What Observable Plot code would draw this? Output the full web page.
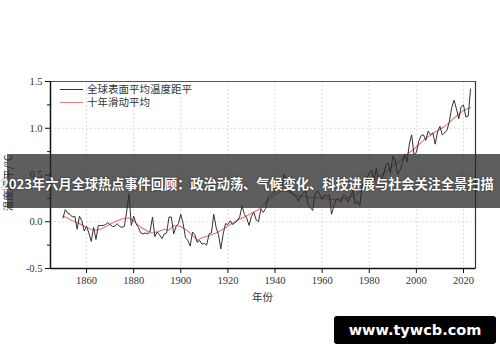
<!DOCTYPE html>
<html>
<head>
<meta charset="utf-8">
<script src="https://cdn.jsdelivr.net/npm/d3@7"></script>
<script src="https://cdn.jsdelivr.net/npm/@observablehq/plot@0.6"></script>
<style>
  html, body { margin: 0; padding: 0; background: #fff; }
  #wrap { position: relative; width: 500px; height: 362px; overflow: hidden; background: #fff; }
  #wrap svg { position: absolute; left: 0; top: 0; }
  .ov { position: absolute; white-space: nowrap; }
</style>
</head>
<body>
<div id="wrap"></div>
<script>
// ---- data ----
const startYear = 1850;
const anomaly = [
  0.04, 0.13, 0.09, 0.08, 0.05, 0.06, -0.08, 0.06, 0.01, -0.10,
  -0.05, -0.12, -0.21, -0.06, -0.19, -0.04, -0.04, -0.04, -0.03, -0.01,
  -0.03, -0.05, -0.05, -0.02, -0.05, -0.06, -0.05, 0.10, 0.30, -0.04,
  0.06, -0.02, -0.06, -0.12, -0.13, -0.12, -0.13, -0.10, 0.05, -0.16,
  -0.11, -0.14, -0.18, -0.13, -0.12, 0.05, 0.05, -0.13, -0.05, -0.02,
  0.08, -0.02, -0.17, -0.20, -0.26, -0.11, -0.14, -0.22, -0.20, -0.24,
  -0.23, -0.25, -0.13, -0.12, 0.08, -0.06, -0.14, -0.29, -0.13, -0.02,
  -0.03, 0.01, -0.03, -0.01, 0.01, 0.05, 0.17, 0.08, 0.04, -0.04,
  0.06, 0.10, 0.02, 0.00, 0.14, 0.10, 0.14, 0.26, 0.28, 0.30,
  0.33, 0.40, 0.35, 0.36, 0.51, 0.40, 0.36, 0.30, 0.28, 0.27,
  0.22, 0.28, 0.30, 0.34, 0.19, 0.15, 0.12, 0.30, 0.33, 0.29,
  0.24, 0.29, 0.27, 0.29, 0.08, 0.17, 0.24, 0.23, 0.21, 0.29,
  0.27, 0.21, 0.27, 0.33, 0.19, 0.22, 0.17, 0.40, 0.34, 0.47,
  0.52, 0.55, 0.44, 0.57, 0.43, 0.45, 0.50, 0.60, 0.63, 0.52,
  0.70, 0.66, 0.51, 0.55, 0.62, 0.72, 0.64, 0.83, 0.93, 0.72,
  0.74, 0.86, 0.92, 0.93, 0.87, 0.97, 0.93, 0.95, 0.83, 0.96,
  1.02, 0.93, 0.95, 0.98, 1.07, 1.22, 1.30, 1.21, 1.10, 1.23,
  1.25, 1.12, 1.13, 1.42
];
const years = anomaly.map((_, i) => startYear + i);

const maYears = [
  1850, 1852, 1854, 1857, 1860, 1862, 1864, 1866, 1869, 1872,
  1875, 1878, 1880, 1883, 1886, 1888, 1891, 1893, 1895, 1897,
  1900, 1903, 1906, 1907, 1909, 1912, 1915, 1918, 1921, 1924,
  1927, 1930, 1933, 1935, 1937, 1940, 1943, 1945, 1948, 1950,
  1955, 1960, 1965, 1970, 1975, 1978, 1980, 1983, 1985, 1988,
  1990, 1993, 1996, 2000, 2003, 2005, 2008, 2010, 2012, 2014,
  2016, 2018, 2020, 2021, 2023
];
const maValues = [
  0.06, 0.04, 0.01, -0.02, -0.06, -0.08, -0.09, -0.08, -0.04, 0.00,
  0.03, 0.04, 0.01, -0.06, -0.10, -0.12, -0.10, -0.08, -0.09, -0.04,
  -0.05, -0.10, -0.17, -0.20, -0.17, -0.15, -0.12, -0.08, -0.03, 0.02,
  0.05, 0.09, 0.13, 0.18, 0.23, 0.29, 0.33, 0.33, 0.30, 0.28,
  0.26, 0.25, 0.24, 0.25, 0.30, 0.36, 0.40, 0.46, 0.50, 0.56,
  0.60, 0.65, 0.72, 0.80, 0.87, 0.91, 0.96, 0.99, 1.02, 1.06,
  1.11, 1.15, 1.19, 1.20, 1.22
];

const xTicks = [1860, 1880, 1900, 1920, 1940, 1960, 1980, 2000, 2020];
const yTicks = [-0.5, 0.0, 0.5, 1.0, 1.5];
const yMinorTicks = [-0.25, 0.25, 0.75, 1.25];
const xDomain = [1844.7, 2025.1];
const yDomain = [-0.5, 1.5];

const titleText = "2023年六月全球热点事件回顾：政治动荡、气候变化、科技进展与社会关注全景扫描";
const seriesNames = ["全球表面平均温度距平", "十年滑动平均"];
const seriesColors = ["#333333", "#ee7b7b"];
const xLabel = "年份";
const yLabel = "温度距平/°C";
const watermark = "www.tywcb.com";

// ---- chart ----
const chart = Plot.plot({
  width: 500,
  height: 362,
  marginLeft: 50,
  marginRight: 25,
  marginTop: 81,
  marginBottom: 94,
  style: { fontFamily: "'Liberation Serif', 'Noto Sans CJK SC', serif", fontSize: "10.5px", color: "#333", background: "transparent" },
  x: { domain: xDomain },
  y: { domain: yDomain },
  marks: [
    Plot.gridX(xTicks, { stroke: "#cfcfcf", strokeOpacity: 1, strokeWidth: 0.7, strokeDasharray: "2,2" }),
    Plot.gridY(yTicks, { stroke: "#cfcfcf", strokeOpacity: 1, strokeWidth: 0.7, strokeDasharray: "2,2" }),
    Plot.line(maYears, { x: maYears, y: maValues, stroke: seriesColors[1], strokeWidth: 1.2 }),
    Plot.line(years, { x: years, y: anomaly, stroke: seriesColors[0], strokeWidth: 1 }),
    Plot.frame({ stroke: "#555", strokeWidth: 1 }),
    Plot.ruleX([xDomain[0]], { stroke: "#111", strokeWidth: 1.5 }),
    Plot.ruleY([yDomain[0]], { stroke: "#111", strokeWidth: 1.5 }),
    Plot.ruleX([xDomain[1]], { stroke: "#333", strokeWidth: 1.2 }),
    Plot.axisX(xTicks, { tickSize: 5, tickPadding: 3, tickFormat: d => String(d), label: null, stroke: "#111" }),
    Plot.axisY(yTicks, { tickSize: 5, tickPadding: 3, tickFormat: d => d.toFixed(1), label: null, stroke: "#111" }),
    Plot.axisY(yMinorTicks, { tickSize: 3, tickFormat: () => "", label: null, stroke: "#111" })
  ]
});

const wrap = document.getElementById("wrap");
wrap.appendChild(chart);

function addDiv(html, css) {
  const d = document.createElement("div");
  d.className = "ov";
  d.innerHTML = html;
  Object.assign(d.style, css);
  wrap.appendChild(d);
  return d;
}

// legend
seriesNames.forEach((name, i) => {
  const top = 89 + i * 13;
  addDiv("", { left: "60px", top: (top - 0.5) + "px", width: "23px", height: "0", borderTop: "1.2px solid " + seriesColors[i] });
  addDiv(name, { left: "87px", top: (top - 6) + "px", fontSize: "10.5px", lineHeight: "11px", color: "#333",
    fontFamily: "'Noto Sans CJK SC', sans-serif" });
});

// axis labels
addDiv(xLabel, { left: "252px", top: "290px", fontSize: "10.5px", lineHeight: "13px", color: "#333",
  fontFamily: "'Noto Sans CJK SC', sans-serif" });
addDiv(yLabel, { left: "8px", top: "183px", fontSize: "10.5px", lineHeight: "12px", color: "#333",
  fontFamily: "'Noto Sans CJK SC', sans-serif", transform: "translate(-50%, -50%) rotate(-90deg)" });

// title band
addDiv("", { left: "7px", top: "154px", width: "493px", height: "54px", background: "rgba(40,40,40,0.75)" });
addDiv(titleText, { left: "1px", top: "176px", fontSize: "13.2px", lineHeight: "16px", fontWeight: "bold", color: "#fff",
  fontFamily: "'Noto Sans CJK SC', sans-serif", textShadow: "0 0 2px rgba(0,0,0,0.7)" });

// watermark
addDiv(watermark, { left: "334px", top: "316px", width: "162px", height: "28px", lineHeight: "28px", textAlign: "center",
  background: "#000", borderRadius: "3px", color: "#fff", fontWeight: "bold", fontSize: "14.5px",
  fontFamily: "'DejaVu Sans', sans-serif" });
</script>
</body>
</html>
